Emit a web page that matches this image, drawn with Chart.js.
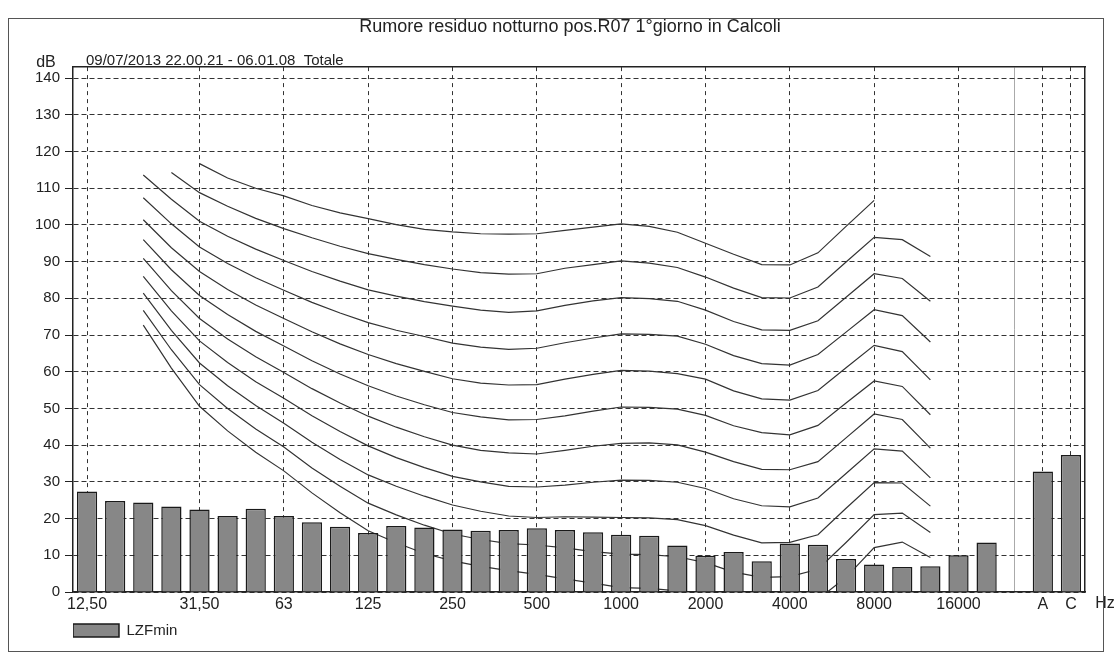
<!DOCTYPE html>
<html>
<head>
<meta charset="utf-8">
<title>Rumore residuo notturno pos.R07</title>
<script src="https://cdn.jsdelivr.net/npm/chart.js@4.4.1/dist/chart.umd.min.js"></script>
<style>
  html, body { margin: 0; padding: 0; background: #fff; }
  #wrap { position: relative; width: 1118px; height: 657px; }
  #frame { position: absolute; left: 8px; top: 18px; width: 1094px; height: 632px; border: 1px solid #555; pointer-events: none; }
</style>
</head>
<body>
<div id="wrap">
  <canvas id="chart" width="1118" height="657"></canvas>
  <div id="frame"></div>
</div>
<script>
const FONT = "'Liberation Sans', Arial, Helvetica, sans-serif";

const chartTitle = 'Rumore residuo notturno pos.R07 1°giorno in Calcoli';
const subTitle = '09/07/2013 22.00.21 - 06.01.08  Totale';
const unitY = 'dB';
const unitX = 'Hz';

// 1/3 octave bands, an empty slot, then the A and C totals
const bands = ['12,50', '16', '20', '25', '31,50', '40', '50', '63', '80', '100',
  '125', '160', '200', '250', '315', '400', '500', '630', '800', '1000',
  '1250', '1600', '2000', '2500', '3150', '4000', '5000', '6300', '8000', '10000',
  '12500', '16000', '20000', '', 'A', 'C'];

const tickLabels = ['12,50', '', '', '', '31,50', '', '', '63', '', '',
  '125', '', '', '250', '', '', '500', '', '', '1000',
  '', '', '2000', '', '', '4000', '', '', '8000', '',
  '', '16000', '', '', 'A', 'C'];

const lzfMin = [27.4, 24.8, 24.4, 23.3, 22.5, 20.7, 22.7, 20.7, 19.0, 17.8,
  16.1, 18.0, 17.6, 17.0, 16.7, 16.9, 17.4, 16.9, 16.3, 15.6,
  15.3, 12.7, 9.9, 10.9, 8.4, 13.2, 12.9, 9.0, 7.5, 6.8,
  7.0, 10.0, 13.5, null, 32.8, 37.3];

// equal loudness curves, values from the band given in "start" on
const phon0 = [72.7, 61.0, 50.6, 43.9, 38.1, 33.0, 27.0, 21.6, 16.7, 13.4, 10.5, 8.5, 7.0, 5.8, 4.8,
  3.6, 2.4, 1.2, 1.0, 0.3, -1.5, -4.0, -5.8, -5.5, -2.0, 4.0, 12.1, 13.6, 9.4];
const phon10 = [76.7, 66.0, 56.5, 50.0, 44.4, 39.5, 33.8, 28.8, 24.2, 21.0, 18.2, 15.8, 14.3, 13.2, 12.8,
  12.0, 11.0, 10.3, 10.2, 9.6, 8.0, 5.4, 4.0, 4.2, 6.2, 13.5, 21.1, 21.5, 16.2];
const phon20 = [81.4, 71.3, 62.4, 56.2, 50.8, 46.0, 40.8, 36.1, 31.9, 28.8, 26.1, 23.7, 22.0, 20.7, 20.3,
  20.5, 20.4, 20.3, 20.2, 19.7, 18.1, 15.5, 13.4, 13.5, 15.6, 22.8, 29.8, 29.7, 23.4];
const phon30 = [86.0, 76.6, 68.4, 62.5, 57.3, 52.8, 48.0, 43.7, 39.8, 36.6, 33.9, 31.5, 30.0, 28.8, 28.6,
  29.1, 29.9, 30.5, 30.4, 29.9, 28.2, 25.4, 23.5, 23.2, 25.6, 32.3, 39.0, 38.4, 31.1];
const phon40 = [90.9, 82.1, 74.5, 68.9, 64.1, 59.8, 55.4, 51.5, 47.9, 44.9, 42.3, 40.0, 38.6, 37.9, 37.6,
  38.6, 39.7, 40.5, 40.6, 40.1, 38.1, 35.5, 33.4, 33.3, 35.5, 42.0, 48.5, 47.0, 39.2];
const phon50 = [96.0, 87.8, 80.8, 75.6, 71.0, 67.0, 63.0, 59.4, 56.2, 53.4, 51.0, 48.9, 47.7, 46.9, 47.0,
  48.0, 49.3, 50.4, 50.3, 49.8, 48.1, 45.3, 43.4, 42.8, 45.4, 51.5, 57.5, 56.0, 48.3];
const phon60 = [101.4, 93.8, 87.3, 82.4, 78.2, 74.5, 70.9, 67.6, 64.7, 62.2, 60.1, 58.1, 56.9, 56.4, 56.5,
  58.0, 59.3, 60.4, 60.2, 59.5, 58.0, 54.8, 52.6, 52.3, 54.9, 61.1, 67.2, 65.5, 57.8];
const phon70 = [107.4, 100.3, 94.0, 89.5, 85.6, 82.2, 78.9, 76.0, 73.4, 71.3, 69.6, 67.8, 66.7, 66.1, 66.4,
  67.9, 69.2, 70.3, 70.2, 69.7, 67.5, 64.4, 62.2, 61.8, 64.7, 70.8, 76.9, 75.3, 68.1];
const phon80 = [113.6, 107.0, 101.0, 96.9, 93.4, 90.3, 87.3, 84.7, 82.3, 80.6, 79.1, 77.9, 76.8, 76.2, 76.6,
  78.1, 79.3, 80.2, 79.9, 79.2, 76.8, 73.7, 71.4, 71.3, 73.9, 80.3, 86.7, 85.4, 79.2];
const phon90 = [114.3, 108.8, 105.1, 101.8, 99.0, 96.5, 94.2, 92.2, 90.6, 89.2, 88.0, 87.0, 86.6, 86.7,
  88.2, 89.2, 90.2, 89.6, 88.4, 85.8, 82.8, 80.2, 80.1, 83.1, 89.9, 96.6, 96.0, 91.4];
const phon100 = [116.7, 112.8, 110.0, 107.9, 105.3, 103.3, 101.7, 100.1, 98.8, 98.1, 97.6, 97.5, 97.6,
  98.5, 99.4, 100.3, 99.6, 98.0, 95.0, 92.0, 89.2, 89.1, 92.4, 99.6, 106.7];

const curves = [
  { data: phon0, start: 2 }, { data: phon10, start: 2 }, { data: phon20, start: 2 },
  { data: phon30, start: 2 }, { data: phon40, start: 2 }, { data: phon50, start: 2 },
  { data: phon60, start: 2 }, { data: phon70, start: 2 }, { data: phon80, start: 2 },
  { data: phon90, start: 3 }, { data: phon100, start: 4 }
];

// put a curve on the band axis
function onBands(values, start) {
  return bands.map((b, i) => {
    const v = values[i - start];
    return v === undefined ? null : v;
  });
}

const axisText = {
  id: 'axisText',
  afterDraw(chart) {
    const { ctx, chartArea } = chart;
    const xs = chart.scales.x;
    ctx.save();
    ctx.fillStyle = '#222';
    ctx.textBaseline = 'middle';
    ctx.font = '16px ' + FONT;
    ctx.textAlign = 'center';
    ctx.fillText(unitY, chartArea.left - 27, chartArea.top - 5);
    ctx.fillText(unitX, chartArea.right + 20, xs.top + 11.6);
    ctx.textAlign = 'left';
    ctx.font = '15px ' + FONT;
    ctx.fillText(subTitle, chartArea.left + 13, chartArea.top - 6);
    ctx.restore();
  }
};

const lineSets = curves.map((c, k) => ({
  type: 'line',
  label: (k * 10) + ' phon',
  data: onBands(c.data, c.start),
  borderColor: '#333',
  borderWidth: 1.2,
  pointRadius: 0,
  tension: 0,
  fill: false,
  order: 1,
  xAxisID: 'x',
  yAxisID: 'y'
}));

new Chart(document.getElementById('chart'), {
  type: 'bar',
  data: {
    labels: bands,
    datasets: [
      {
        type: 'bar',
        label: 'LZFmin',
        data: lzfMin,
        backgroundColor: '#878787',
        borderColor: '#1a1a1a',
        borderWidth: 1.5,
        categoryPercentage: 1,
        barPercentage: 0.72,
        order: 0,
        xAxisID: 'x',
        yAxisID: 'y'
      },
      ...lineSets
    ]
  },
  options: {
    responsive: false,
    animation: false,
    layout: { padding: { left: 30, right: 8, top: 8, bottom: 9 } },
    scales: {
      x: {
        type: 'category',
        position: 'bottom',
        offset: true,
        afterFit: s => { s.height = 31; },
        grid: {
          offset: false,
          drawTicks: false,
          lineWidth: 1,
          color: ctx => tickLabels[ctx.index] ? '#333' : 'rgba(0,0,0,0)'
        },
        border: { display: true, color: '#222', width: 1.5, dash: [4, 4] },
        ticks: {
          autoSkip: false,
          maxRotation: 0,
          minRotation: 0,
          padding: 3,
          color: '#222',
          font: { family: FONT, size: 16 },
          callback: (v, i) => tickLabels[i]
        }
      },
      xTop: {
        type: 'category',
        position: 'top',
        offset: true,
        grid: {
          offset: false,
          drawTicks: false,
          color: ctx => ctx.index === 33 ? '#aaa' : 'rgba(0,0,0,0)'
        },
        border: { display: true, color: '#222', width: 1.5 },
        ticks: { display: false }
      },
      y: {
        position: 'left',
        min: 0,
        max: 143,
        afterFit: s => { s.width = 43; },
        ticks: {
          stepSize: 10,
          includeBounds: false,
          padding: 5,
          color: '#222',
          font: { family: FONT, size: 15 }
        },
        grid: {
          color: '#333',
          lineWidth: 1,
          drawTicks: true,
          tickLength: 8,
          tickColor: '#222',
          tickBorderDash: []
        },
        border: { display: true, color: '#222', width: 1.5, dash: [5, 3] }
      },
      yRight: {
        position: 'right',
        min: 0,
        max: 143,
        afterFit: s => { s.width = 25; },
        grid: { drawOnChartArea: false, drawTicks: false },
        ticks: { display: false },
        border: { display: true, color: '#222', width: 1.5 }
      }
    },
    plugins: {
      title: {
        display: true,
        text: chartTitle,
        color: '#222',
        font: { family: FONT, size: 18, weight: 'normal' },
        padding: { top: 8, bottom: 29.5 }
      },
      legend: {
        position: 'bottom',
        align: 'start',
        fullSize: false,
        labels: {
          boxWidth: 46,
          boxHeight: 13,
          padding: 0,
          color: '#222',
          font: { family: FONT, size: 15 },
          filter: item => item.datasetIndex === 0
        }
      },
      tooltip: { enabled: false }
    }
  },
  plugins: [axisText]
});
</script>
</body>
</html>
